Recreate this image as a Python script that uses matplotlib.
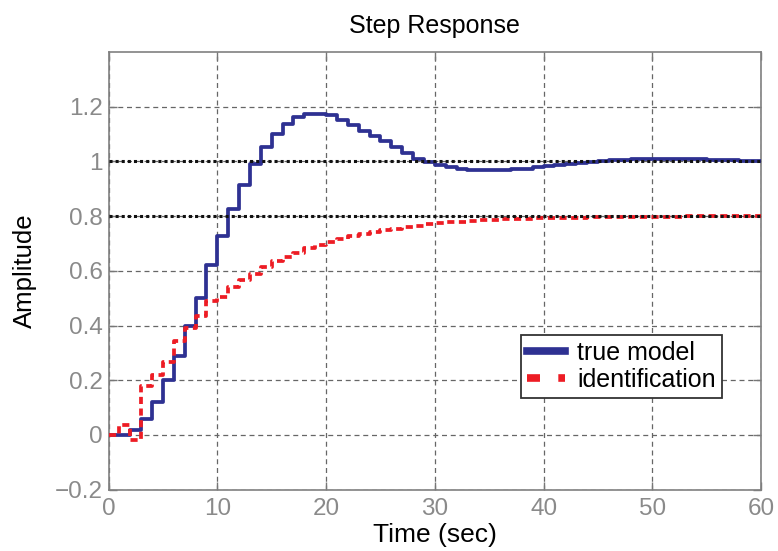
import numpy as np
import matplotlib
matplotlib.use('Agg')
import matplotlib.pyplot as plt
from matplotlib.ticker import FuncFormatter

plt.rcParams['font.family'] = ['Liberation Sans', 'DejaVu Sans']

# sample instants (sec), 1 s sample time
t = np.arange(0, 61)

true_model = [0.0, 0.0, 0.018, 0.06, 0.12, 0.20, 0.29, 0.40, 0.50, 0.62,
              0.728, 0.827, 0.914, 0.99, 1.053, 1.101, 1.137, 1.161, 1.172, 1.173,
              1.168, 1.153, 1.134, 1.113, 1.094, 1.073, 1.051, 1.031, 1.01, 0.998,
              0.988, 0.979, 0.973, 0.970, 0.968, 0.968, 0.969, 0.971, 0.974, 0.978,
              0.982, 0.986, 0.990, 0.994, 0.998, 1.001, 1.004, 1.006, 1.008, 1.009,
              1.010, 1.010, 1.010, 1.009, 1.008, 1.007, 1.005, 1.004, 1.003, 1.002,
              1.001]

identification = [0.0, 0.035, -0.018, 0.18, 0.22, 0.268, 0.345, 0.39, 0.435, 0.488,
                  0.506, 0.54, 0.565, 0.59, 0.615, 0.635, 0.652, 0.667, 0.682, 0.695,
                  0.705, 0.716, 0.726, 0.734, 0.741, 0.748, 0.754, 0.76, 0.765, 0.77,
                  0.774, 0.777, 0.78, 0.783, 0.785, 0.787, 0.789, 0.79, 0.791, 0.792,
                  0.793, 0.794, 0.795, 0.795, 0.796, 0.796, 0.797, 0.797, 0.797, 0.798,
                  0.798, 0.798, 0.798, 0.799, 0.799, 0.799, 0.799, 0.799, 0.799, 0.799,
                  0.799]

steady_levels = [1.0, 0.8]

x_ticks = [0, 10, 20, 30, 40, 50, 60]
y_ticks = [-0.2, 0, 0.2, 0.4, 0.6, 0.8, 1.0, 1.2]

fig = plt.figure(figsize=(7.78, 5.51), dpi=100)
ax = fig.add_axes([0.1396, 0.1113, 0.8386, 0.7943])

ax.plot(t, true_model, drawstyle='steps-post', color='#2E3192', lw=2.7,
        label='true model', zorder=3)
ax.plot(t, identification, drawstyle='steps-post', color='#ED1C24', lw=2.7,
        dashes=[1.9, 1.2], label='identification', zorder=3)
for lvl in steady_levels:
    ax.axhline(lvl, color='#111111', lw=2.2, dashes=[1, 1], zorder=4)

ax.set_xlim(0, 60)
ax.set_ylim(-0.2, 1.4)
ax.set_xticks(x_ticks)
ax.set_yticks(y_ticks)
ax.yaxis.set_major_formatter(FuncFormatter(lambda v, p: ('%g' % round(v, 2)).replace('-', '\u2212')))

ax.grid(True, color='#666666', lw=0.9, linestyle=(0, (4, 3)))
ax.tick_params(direction='in', top=True, right=True, length=6, width=1,
               color='#777777', labelcolor='#8a8a8a', labelsize=17.5, pad=4)
ax.tick_params(axis='x', pad=6)
for s in ax.spines.values():
    s.set_color('#808080')
    s.set_linewidth(1.2)

ax.set_title('Step Response', fontsize=18, pad=14)
ax.set_xlabel('Time (sec)', fontsize=19, labelpad=2)
ax.set_ylabel('Amplitude', fontsize=18.5, labelpad=13)

leg = ax.legend(loc='lower right', bbox_to_anchor=(0.94, 0.21), fontsize=18,
                handlelength=1.5, handletextpad=0.5, borderpad=0.25,
                labelspacing=0.1, fancybox=False, framealpha=1,
                edgecolor='#333333', borderaxespad=0)
leg.get_frame().set_linewidth(1.3)
leg.set_zorder(5)
for ln in leg.get_lines():
    ln.set_linewidth(5.5)
leg.get_lines()[1].set_dashes([1.7, 2.4])

fig.savefig('out.png', dpi=100)
